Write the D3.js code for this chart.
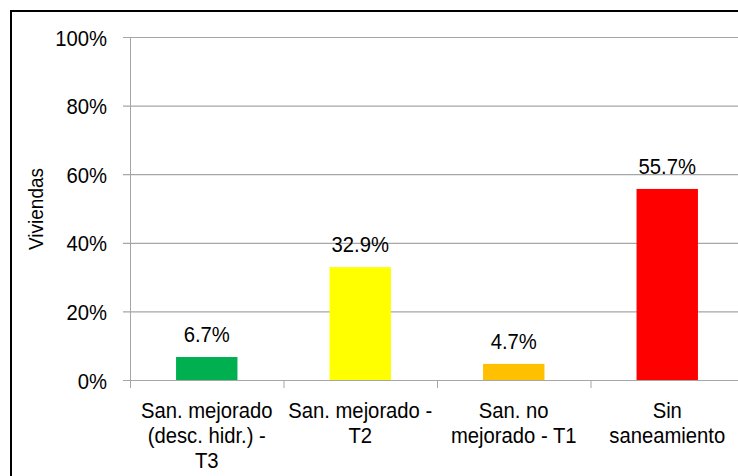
<!DOCTYPE html>
<html>
<head>
<meta charset="utf-8">
<script src="https://cdn.jsdelivr.net/npm/d3@7/dist/d3.min.js"></script>
<style>
  html, body { margin: 0; padding: 0; background: #fff; }
  svg { display: block; }
  text { font-family: "Liberation Sans", Arial, sans-serif; fill: #000; }
</style>
</head>
<body>
<svg id="chart" width="738" height="476"></svg>
<script>
// Saneamiento de viviendas
const categories = [
  ["San. mejorado", "(desc. hidr.) -", "T3"],
  ["San. mejorado -", "T2"],
  ["San. no", "mejorado - T1"],
  ["Sin", "saneamiento"]
];
const values = [6.7, 32.9, 4.7, 55.7];
const colors = ["#00b050", "#ffff00", "#ffc000", "#ff0000"];
const yTicks = [0, 20, 40, 60, 80, 100];
const yTitle = "Viviendas";

(function () {
  const svg = d3.select("#chart");
  const W = 738;
  const FS = 22.5, SX = 0.9;   // slightly narrowed lettering
  const grid = "#a6a6a6";

  // outer frame (continues past the right and bottom edges)
  svg.append("rect")
    .attr("x", 11).attr("y", 11)
    .attr("width", 760).attr("height", 500)
    .attr("fill", "none").attr("stroke", "#000").attr("stroke-width", 2);

  const pLeft = 130, pRight = 744, pTop = 37, pBottom = 380;

  const x = d3.scaleBand()
    .domain(d3.range(categories.length))
    .range([pLeft, pRight])
    .paddingInner(0.6).paddingOuter(0.3);

  const y = d3.scaleLinear().domain([0, 100]).range([pBottom, pTop]);

  // gridlines + y ticks
  const yAxis = d3.axisLeft(y)
    .tickValues(yTicks)
    .tickSize(-(W - pLeft + 10))
    .tickFormat(d => d + "%");

  const gy = svg.append("g").attr("transform", `translate(${pLeft},0)`).call(yAxis);
  gy.select(".domain").remove();
  gy.selectAll(".tick line")
    .attr("x1", -7)
    .attr("stroke", grid).attr("stroke-width", 1.2);
  gy.selectAll(".tick text")
    .attr("x", 0)
    .attr("dy", "0.36em")
    .attr("transform", `translate(-23,0) scale(${SX},1)`)
    .attr("font-family", null)
    .attr("font-size", null)
    .style("font-size", FS + "px");

  // vertical axis line
  svg.append("line")
    .attr("x1", pLeft + 0.5).attr("x2", pLeft + 0.5)
    .attr("y1", pTop).attr("y2", pBottom + 8)
    .attr("stroke", grid).attr("stroke-width", 1);

  // category separators on the x axis
  const sep = i => pLeft + i * (pRight - pLeft) / categories.length;
  svg.append("g").selectAll("line")
    .data(d3.range(categories.length + 1))
    .join("line")
    .attr("x1", i => sep(i) + 0.5)
    .attr("x2", i => sep(i) + 0.5)
    .attr("y1", pBottom).attr("y2", pBottom + 8)
    .attr("stroke", grid).attr("stroke-width", 1);

  // bars
  svg.append("g").selectAll("rect")
    .data(values)
    .join("rect")
    .attr("x", (d, i) => x(i))
    .attr("width", x.bandwidth())
    .attr("y", d => y(d))
    .attr("height", d => y(0) - y(d))
    .attr("fill", (d, i) => colors[i]);

  // zero line drawn on top of bars
  svg.append("line")
    .attr("x1", pLeft - 7).attr("x2", W)
    .attr("y1", pBottom + 0.5).attr("y2", pBottom + 0.5)
    .attr("stroke", grid).attr("stroke-width", 1.2);

  // value labels
  svg.append("g").selectAll("text")
    .data(values)
    .join("text")
    .attr("transform", (d, i) => `translate(${x(i) + x.bandwidth() / 2},${y(d) - 15}) scale(${SX},1)`)
    .attr("text-anchor", "middle")
    .style("font-size", FS + "px")
    .text(d => d.toFixed(1) + "%");

  // category labels
  const catCenter = i => pLeft + (i + 0.5) * (pRight - pLeft) / categories.length;
  const cg = svg.append("g");
  categories.forEach((lines, i) => {
    const t = cg.append("text")
      .attr("transform", `translate(${catCenter(i)},418) scale(${SX},1)`)
      .attr("text-anchor", "middle")
      .style("font-size", FS + "px");
    lines.forEach((ln, j) => {
      t.append("tspan")
        .attr("x", 0)
        .attr("y", j * 25)
        .text(ln);
    });
  });

  // y axis title
  svg.append("text")
    .attr("transform", "translate(43,209) rotate(-90) scale(0.95,1)")
    .attr("text-anchor", "middle")
    .style("font-size", "20px")
    .text(yTitle);
})();
</script>
</body>
</html>
